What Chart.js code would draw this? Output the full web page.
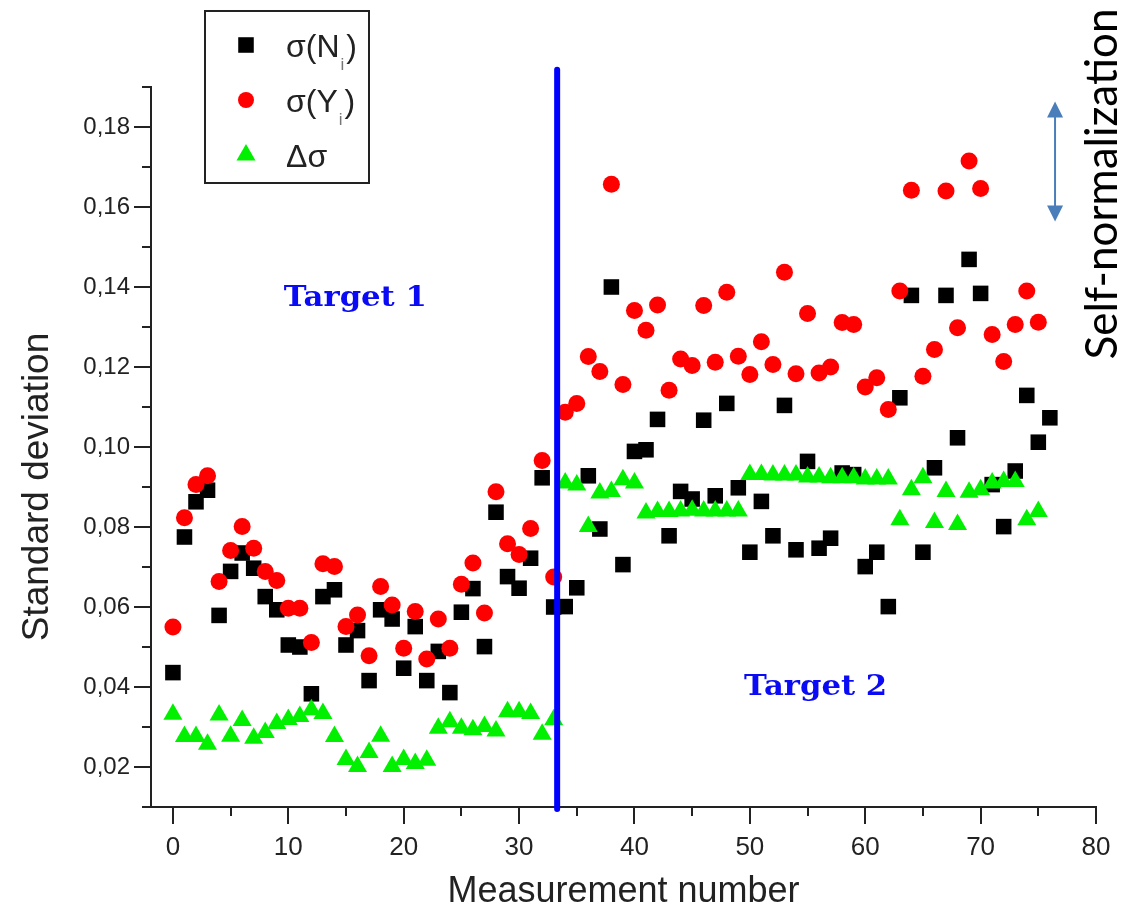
<!DOCTYPE html>
<html>
<head>
<meta charset="utf-8">
<title>Standard deviation per measurement</title>
<script src="https://cdn.jsdelivr.net/npm/chart.js@4.4.1/dist/chart.umd.min.js"></script>
<style>
  html, body { margin: 0; padding: 0; background: #fff; }
  canvas { display: block; }
</style>
</head>
<body>
<canvas id="chart" width="1128" height="915"></canvas>
<script>
// standard deviation of each measurement, index = measurement number
const sigmaN = [
  0.0436, 0.0775, 0.0863, 0.0892, 0.0579, 0.0689, 0.0735, 0.0697, 0.0626, 0.0593,
  0.0505, 0.0500, 0.0383, 0.0626, 0.0643, 0.0505, 0.0541, 0.0416, 0.0593, 0.0570,
  0.0447, 0.0551, 0.0416, 0.0489, 0.0386, 0.0587, 0.0646, 0.0501, 0.0837, 0.0676,
  0.0647, 0.0722, 0.0923, 0.0600, 0.0601, 0.0648, 0.0928, 0.0795, 0.1400, 0.0706,
  0.0989, 0.0993, 0.1069, 0.0778, 0.0889, 0.0870, 0.1067, 0.0878, 0.1109, 0.0898,
  0.0737, 0.0864, 0.0778, 0.1104, 0.0743, 0.0964, 0.0747, 0.0772, 0.0935, 0.0931,
  0.0701, 0.0737, 0.0601, 0.1123, 0.1379, 0.0737, 0.0948, 0.1379, 0.1023, 0.1469,
  0.1384, 0.0906, 0.0801, 0.0940, 0.1129, 0.1012, 0.1073,
];
const sigmaY = [
  0.0550, 0.0823, 0.0906, 0.0928, 0.0664, 0.0741, 0.0801, 0.0747, 0.0689, 0.0666,
  0.0597, 0.0597, 0.0511, 0.0708, 0.0701, 0.0551, 0.0580, 0.0478, 0.0651, 0.0605,
  0.0497, 0.0589, 0.0470, 0.0570, 0.0497, 0.0657, 0.0710, 0.0585, 0.0888, 0.0758,
  0.0731, 0.0796, 0.0966, 0.0675, 0.1087, 0.1109, 0.1226, 0.1189, 0.1657, 0.1156,
  0.1341, 0.1292, 0.1355, 0.1142, 0.1220, 0.1204, 0.1354, 0.1212, 0.1387, 0.1227,
  0.1181, 0.1263, 0.1206, 0.1437, 0.1183, 0.1334, 0.1185, 0.1200, 0.1311, 0.1306,
  0.1150, 0.1173, 0.1094, 0.1390, 0.1642, 0.1177, 0.1244, 0.1640, 0.1298, 0.1715,
  0.1646, 0.1281, 0.1214, 0.1306, 0.1390, 0.1312,
];
const deltaSigma = [
  0.0332, 0.0276, 0.0276, 0.0257, 0.0330, 0.0277, 0.0316, 0.0272, 0.0286, 0.0309,
  0.0319, 0.0326, 0.0343, 0.0334, 0.0276, 0.0219, 0.0201, 0.0236, 0.0277, 0.0201,
  0.0219, 0.0209, 0.0217, 0.0297, 0.0313, 0.0297, 0.0293, 0.0301, 0.0290, 0.0338,
  0.0338, 0.0334, 0.0282, 0.0318, 0.0910, 0.0905, 0.0801, 0.0885, 0.0889, 0.0918,
  0.0910, 0.0835, 0.0839, 0.0839, 0.0840, 0.0842, 0.0840, 0.0840, 0.0840, 0.0840,
  0.0931, 0.0931, 0.0930, 0.0930, 0.0930, 0.0925, 0.0925, 0.0923, 0.0923, 0.0923,
  0.0920, 0.0920, 0.0920, 0.0818, 0.0893, 0.0923, 0.0811, 0.0889, 0.0806, 0.0887,
  0.0893, 0.0910, 0.0914, 0.0914, 0.0818, 0.0839,
];

// axis ticks
const xMajorTicks = [0, 10, 20, 30, 40, 50, 60, 70, 80];
const xMinorTicks = [5, 15, 25, 35, 45, 55, 65, 75];
const yMajorTicks = [0.02, 0.04, 0.06, 0.08, 0.10, 0.12, 0.14, 0.16, 0.18];
const yMinorTicks = [0.01, 0.03, 0.05, 0.07, 0.09, 0.11, 0.13, 0.15, 0.17, 0.19];

// target change between measurements 33 and 34
const boundaryX = [33.3, 33.3];
const boundaryY = [0.0095, 0.1943];

const targetLabels = ['Target 1', 'Target 2'];
const targetX = [15.8, 55.7];
const targetY = [0.1370, 0.0398];

const arrowX = 76.45;
const arrowY = [0.1564, 0.1864];

const legendLabels = [
  { main: 'σ(N', sub: 'i', end: ')' },
  { main: 'σ(Y', sub: 'i', end: ')' },
  { main: 'Δσ', sub: '', end: '' },
];

const SANS = "'Liberation Sans', Arial, sans-serif";

const toPoints = (values) => values.map((y, x) => ({ x, y }));

const seriesStyles = [
  { pointStyle: 'rect', radius: 11, color: '#000000' },
  { pointStyle: 'circle', radius: 8.5, color: '#ff0000' },
  { pointStyle: 'triangle', radius: 11, color: '#00f000' },
];

const drawArrowHead = (ctx, x, y, dir) => {
  ctx.beginPath();
  ctx.moveTo(x, y);
  ctx.lineTo(x - 8, y + dir * 16);
  ctx.lineTo(x + 8, y + dir * 16);
  ctx.closePath();
  ctx.fill();
};

const extras = {
  id: 'extras',
  afterDraw(chart) {
    const { ctx, chartArea } = chart;
    const xScale = chart.scales.x;
    const yScale = chart.scales.y;
    ctx.save();

    // tick marks, minor ones shorter
    ctx.strokeStyle = '#222';
    ctx.lineWidth = 2;
    ctx.beginPath();
    xMajorTicks.concat(xMinorTicks).forEach((v) => {
      const px = Math.round(xScale.getPixelForValue(v));
      const len = xMajorTicks.includes(v) ? 17 : 9;
      ctx.moveTo(px, chartArea.bottom);
      ctx.lineTo(px, chartArea.bottom + len);
    });
    yMajorTicks.concat(yMinorTicks).forEach((v) => {
      const py = Math.round(yScale.getPixelForValue(v));
      const len = yMajorTicks.includes(v) ? 17 : 9;
      ctx.moveTo(chartArea.left - len, py);
      ctx.lineTo(chartArea.left, py);
    });
    ctx.stroke();

    // axis titles
    ctx.fillStyle = '#222';
    ctx.font = `36px ${SANS}`;
    ctx.textAlign = 'center';
    ctx.textBaseline = 'alphabetic';
    ctx.fillText('Measurement number', (chartArea.left + chartArea.right) / 2, 902);
    ctx.save();
    ctx.translate(48, 487);
    ctx.rotate(-Math.PI / 2);
    ctx.font = `37px ${SANS}`;
    ctx.fillText('Standard deviation', 0, 0);
    ctx.restore();

    // legend box
    ctx.lineWidth = 2;
    ctx.strokeStyle = '#222';
    ctx.strokeRect(205, 11, 164, 172);
    const rowY = [45, 100, 155];
    legendLabels.forEach((item, i) => {
      const style = seriesStyles[i];
      ctx.fillStyle = style.color;
      Chart.helpers.drawPoint(ctx, {
        pointStyle: style.pointStyle,
        radius: style.pointStyle === 'circle' ? 8 : style.radius,
        rotation: 0,
        borderWidth: 0,
      }, 246, rowY[i]);
      ctx.fillStyle = '#222';
      ctx.font = `32px ${SANS}`;
      ctx.textAlign = 'left';
      ctx.textBaseline = 'alphabetic';
      let tx = 286;
      ctx.fillText(item.main, tx, rowY[i] + 12);
      tx += ctx.measureText(item.main).width;
      if (item.sub) {
        ctx.font = `17px ${SANS}`;
        ctx.fillStyle = '#777';
        ctx.fillText(item.sub, tx + 1, rowY[i] + 25);
        tx += ctx.measureText(item.sub).width + 3;
        ctx.font = `32px ${SANS}`;
        ctx.fillStyle = '#222';
        ctx.fillText(item.end, tx, rowY[i] + 12);
      }
    });

    // target names
    ctx.fillStyle = '#0a0af5';
    ctx.font = "bold 28px 'DejaVu Serif', serif";
    ctx.textBaseline = 'middle';
    ctx.textAlign = 'center';
    targetLabels.forEach((label, i) => {
      const w = ctx.measureText(label).width;
      ctx.save();
      ctx.translate(xScale.getPixelForValue(targetX[i]), yScale.getPixelForValue(targetY[i]));
      ctx.scale(143 / w, 1);
      ctx.fillText(label, 0, 0);
      ctx.restore();
    });

    // self-normalization arrow
    const ax = xScale.getPixelForValue(arrowX);
    const ay0 = yScale.getPixelForValue(arrowY[1]);
    const ay1 = yScale.getPixelForValue(arrowY[0]);
    ctx.strokeStyle = '#4a7ebb';
    ctx.fillStyle = '#4a7ebb';
    ctx.lineWidth = 2;
    ctx.beginPath();
    ctx.moveTo(ax, ay0 + 10);
    ctx.lineTo(ax, ay1 - 10);
    ctx.stroke();
    drawArrowHead(ctx, ax, ay0, 1);
    drawArrowHead(ctx, ax, ay1, -1);

    ctx.fillStyle = '#000';
    ctx.font = "44px Lato, 'Open Sans', sans-serif";
    ctx.textAlign = 'center';
    ctx.textBaseline = 'middle';
    ctx.save();
    ctx.translate(1103, 184);
    ctx.rotate(-Math.PI / 2);
    ctx.fillText('Self-normalization', 0, 0);
    ctx.restore();

    ctx.restore();
  },
};

const chart = new Chart(document.getElementById('chart'), {
  type: 'scatter',
  data: {
    datasets: [
      {
        label: 'boundary',
        data: boundaryX.map((x, i) => ({ x, y: boundaryY[i] })),
        showLine: true,
        borderColor: '#0000ff',
        borderWidth: 6,
        borderCapStyle: 'round',
        pointRadius: 0,
        clip: false,
        order: 0,
      },
      {
        label: 'Δσ',
        data: toPoints(deltaSigma),
        pointStyle: seriesStyles[2].pointStyle,
        pointRadius: seriesStyles[2].radius,
        backgroundColor: seriesStyles[2].color,
        pointBorderWidth: 0,
        order: 1,
      },
      {
        label: 'σ(Yi)',
        data: toPoints(sigmaY),
        pointStyle: seriesStyles[1].pointStyle,
        pointRadius: seriesStyles[1].radius,
        backgroundColor: seriesStyles[1].color,
        pointBorderWidth: 0,
        order: 2,
      },
      {
        label: 'σ(Ni)',
        data: toPoints(sigmaN),
        pointStyle: seriesStyles[0].pointStyle,
        pointRadius: seriesStyles[0].radius,
        backgroundColor: seriesStyles[0].color,
        pointBorderWidth: 0,
        order: 3,
      },
    ],
  },
  options: {
    responsive: false,
    devicePixelRatio: 1,
    animation: false,
    layout: {
      padding: { left: 81, right: 32, top: 87, bottom: 38 },
    },
    plugins: {
      legend: { display: false },
      tooltip: { enabled: false },
    },
    scales: {
      x: {
        type: 'linear',
        min: -1.9,
        max: 80,
        afterBuildTicks: (scale) => {
          scale.ticks = xMajorTicks.concat(xMinorTicks).sort((a, b) => a - b).map((value) => ({ value }));
        },
        afterFit: (scale) => {
          scale.height = 70;
        },
        ticks: {
          autoSkip: false,
          maxRotation: 0,
          padding: 8,
          color: '#222',
          font: { family: SANS, size: 26 },
          callback: (value) => (xMajorTicks.includes(value) ? String(value) : ''),
        },
        grid: {
          display: true,
          drawOnChartArea: false,
          drawTicks: true,
          tickLength: 17,
          tickColor: 'rgba(0,0,0,0)',
        },
        border: { display: true, color: '#222', width: 2 },
      },
      y: {
        type: 'linear',
        min: 0.01,
        max: 0.19,
        afterBuildTicks: (scale) => {
          scale.ticks = yMajorTicks.concat(yMinorTicks).sort((a, b) => a - b).map((value) => ({ value }));
        },
        afterFit: (scale) => {
          scale.width = 70;
        },
        ticks: {
          autoSkip: false,
          padding: 4,
          color: '#222',
          font: { family: SANS, size: 24 },
          callback: (value) => (yMajorTicks.includes(value) ? value.toFixed(2).replace('.', ',') : ''),
        },
        grid: {
          display: true,
          drawOnChartArea: false,
          drawTicks: true,
          tickLength: 17,
          tickColor: 'rgba(0,0,0,0)',
        },
        border: { display: true, color: '#222', width: 2 },
      },
    },
  },
  plugins: [extras],
});
</script>
</body>
</html>
